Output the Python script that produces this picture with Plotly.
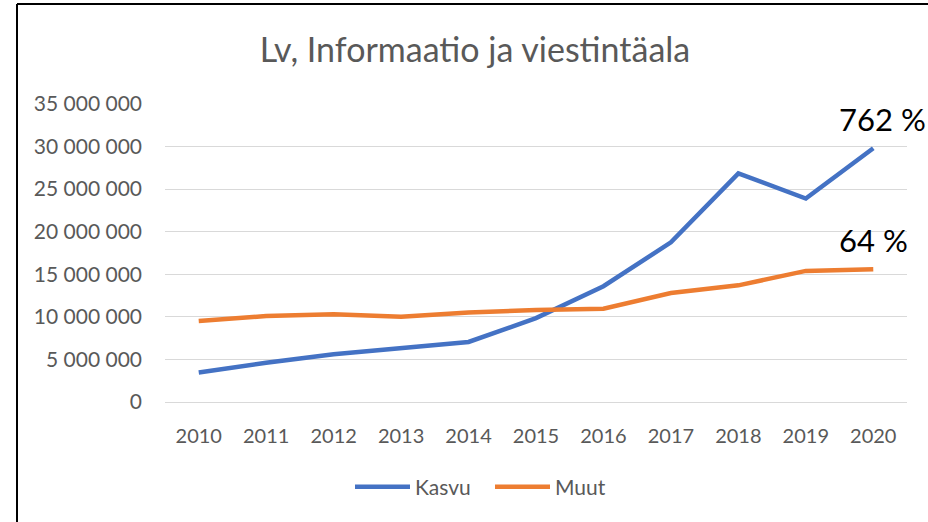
import plotly.graph_objects as go

years = ["2010", "2011", "2012", "2013", "2014", "2015", "2016", "2017", "2018", "2019", "2020"]
kasvu = [3.46e6, 4.6e6, 5.6e6, 6.3e6, 7.05e6, 9.85e6, 13.6e6, 18.75e6, 26.85e6, 23.9e6, 29.8e6]
muut = [9.5e6, 10.1e6, 10.3e6, 10.0e6, 10.5e6, 10.8e6, 10.95e6, 12.8e6, 13.7e6, 15.4e6, 15.6e6]
labels = ["762 %", "64 %"]
series_names = ["Kasvu", "Muut"]
colors = ["#4472C4", "#ED7D31"]

FONT = "Lato"
GREY = "#595959"

fig = go.Figure()
for name, vals, col in zip(series_names, [kasvu, muut], colors):
    fig.add_trace(go.Scatter(x=years, y=vals, mode="lines", name=name,
                             line=dict(color=col, width=4.5)))

annots = []
for lab, vals in zip(labels, [kasvu, muut]):
    annots.append(dict(x=len(years) - 1, y=vals[-1], xref="x", yref="y", text=lab, showarrow=False,
                       xanchor="left", yanchor="middle", xshift=-36, yshift=29,
                       font=dict(family=FONT, size=31, color="#000000")))

W, H = 928, 522
L, R, T, B = 165, 21, 104, 120
pw, ph = W - L - R, H - T - B

def px(x):
    return (x - L) / pw

def py(y):
    return (H - B - y) / ph

shapes = [
    dict(type="line", xref="paper", yref="paper", x0=px(17), x1=px(17), y0=py(522), y1=py(4),
         line=dict(color="#000000", width=2)),
    dict(type="line", xref="paper", yref="paper", x0=px(17), x1=px(928), y0=py(4), y1=py(4),
         line=dict(color="#000000", width=2)),
]

fig.update_layout(
    width=W, height=H,
    margin=dict(l=L, r=R, t=T, b=B),
    paper_bgcolor="white", plot_bgcolor="white",
    separators=", ",
    annotations=annots,
    shapes=shapes,
    title=dict(text="Lv, Informaatio ja viestintäala", x=475 / W, xanchor="center",
               y=1 - 50 / H, yanchor="middle",
               font=dict(family=FONT, size=34, color=GREY)),
    font=dict(family=FONT, size=20, color=GREY),
    showlegend=True,
    legend=dict(orientation="h", x=350 / W, xanchor="left", xref="container",
                y=1 - 487 / H, yanchor="middle", yref="container", entrywidth=70,
                font=dict(family=FONT, size=21, color=GREY), itemwidth=55),
    xaxis=dict(type="category", range=[-0.5, 10.5], showgrid=False, showline=True,
               linecolor="#D9D9D9", linewidth=1, ticks="", tickfont=dict(size=20, color=GREY),
               ticklabelstandoff=16, fixedrange=True),
    yaxis=dict(range=[0, 35e6], dtick=5e6, tickformat=",d", showgrid=True, gridcolor="#D9D9D9",
               gridwidth=1, zeroline=False, showline=False, ticks="",
               tickfont=dict(size=21, color=GREY), ticklabelstandoff=22, fixedrange=True),
)

fig.write_html("out.html", config={"displayModeBar": False},
               post_script="document.body.style.margin='0';document.body.style.padding='0';")
